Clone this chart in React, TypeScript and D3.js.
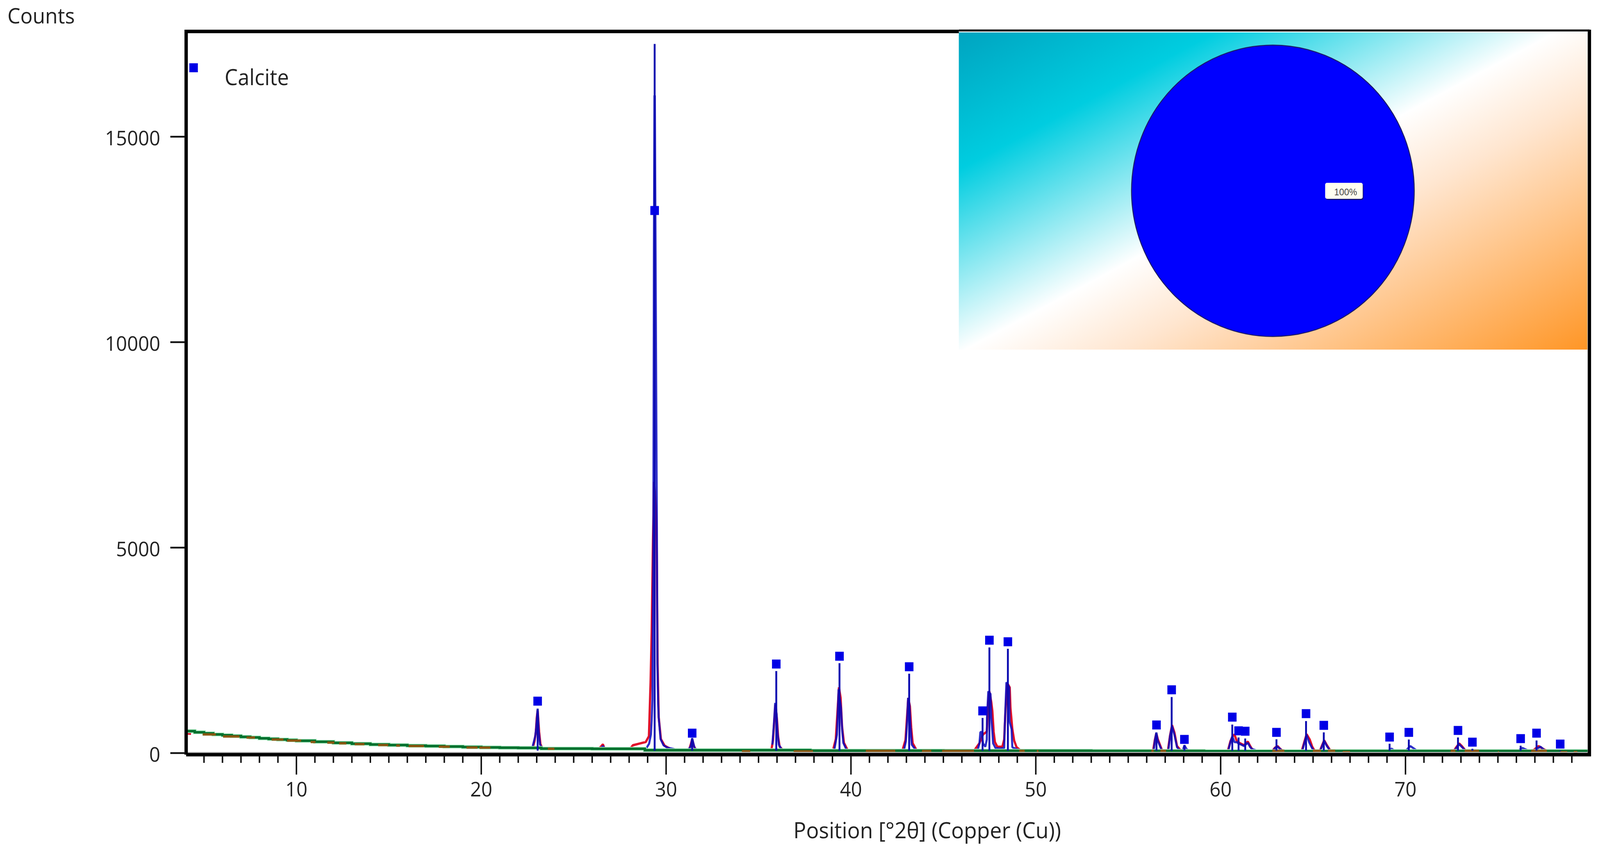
import React from "react";
import * as d3 from "d3";

type Pt = [number, number];

// ---- axes ----
const xMajorTicks = [10, 20, 30, 40, 50, 60, 70];
const xMinorTicks = d3.range(5, 80).filter((v) => v % 10 !== 0);
const yTicks = [0, 5000, 10000, 15000];
const xTitle = "Position [°2θ] (Copper (Cu))";
const yTitle = "Counts";
const phaseName = "Calcite";
const phaseShare = [100];

// ---- reflection list: position, stick height, marker height ----
const peakPositions = [23.05, 29.38, 31.41, 35.96, 39.38, 43.15, 47.12, 47.49, 48.49, 56.53, 57.35, 58.04, 60.63, 60.97, 61.33, 63.02, 64.62, 65.58, 69.14, 70.18, 72.84, 73.62, 76.23, 77.09, 78.37];
const stickCounts = [1079, 17257, 361, 1996, 2189, 1933, 856, 2571, 2538, 504, 1364, 190, 694, 380, 355, 336, 779, 504, 228, 330, 380, 105, 180, 307, 45];
const markerCounts = [1264, 13204, 485, 2167, 2357, 2101, 1027, 2747, 2709, 684, 1540, 333, 875, 542, 532, 504, 960, 675, 390, 504, 551, 266, 352, 485, 219];

// ---- background (stepped) ----
const backgroundCurve: Pt[] = [[4.04, 535], [4.5, 505], [5, 480], [5.5, 455], [6, 435], [6.5, 415], [7, 395], [7.5, 380], [8, 360], [8.5, 345], [9, 330], [9.5, 315], [10, 300], [11, 275], [12, 250], [13, 228], [14, 210], [15, 195], [16, 180], [17, 170], [18, 160], [19, 148], [20, 138], [21, 130], [22, 125], [23.25, 110], [26, 104], [28.85, 72], [37.8, 60], [45, 56], [53, 52], [59.1, 46], [66, 50], [79.85, 50]];

// ---- noise of the measured scan sitting on the background: from, to, counts ----
const noisePatches: [number, number, number][] = [[4.93, 5.64, 455], [6.03, 6.92, 405], [7.3, 7.76, 378], [8.66, 9.3, 330], [9.49, 10.26, 305], [10.77, 11.03, 270], [11.67, 12.05, 255], [12.31, 12.7, 238], [13.15, 13.68, 218], [14.42, 14.97, 195], [15.4, 15.6, 183], [16.07, 16.9, 172], [17.7, 18.3, 155], [19.2, 19.8, 135], [19.9, 20.5, 132], [23.6, 23.96, 104], [34.1, 34.55, 45], [36.9, 37.95, 42], [40.8, 42.4, 55], [43.84, 44.35, 52], [44.93, 46.66, 52], [49.1, 49.4, 55], [50.05, 50.15, 50], [56.25, 56.38, 55], [56.74, 57.05, 55], [62.8, 63.45, 55], [64.99, 65.43, 55], [65.8, 66.2, 55], [66.6, 67.0, 25], [72.44, 72.7, 55], [73.2, 73.98, 55], [75, 75.06, 25], [76.8, 77.65, 55], [78.37, 78.75, 22], [79.1, 79.3, 25]];

// ---- measured scan (null = gap) ----
const observedScan: (Pt | null)[] = [
  [4.04, 480], [4.3, 470], null,
  [22.7, 115], [22.8, 150], [22.88, 290], [22.95, 500], [23.0, 850], [23.05, 1040], [23.13, 520], [23.2, 220], [23.3, 120], null,
  [26.35, 105], [26.5, 170], [26.58, 215], [26.66, 120], null,
  [28.05, 100], [28.2, 190], [28.5, 225], [28.9, 270], [29.07, 410], [29.16, 1740], [29.22, 2950], [29.29, 5190], [29.35, 6600], [29.44, 6000], [29.48, 5580], [29.5, 4570], [29.54, 2170], [29.6, 870], [29.72, 340], [29.92, 180], [30.2, 110], null,
  [31.25, 90], [31.34, 220], [31.41, 340], [31.5, 170], [31.6, 90], null,
  [35.7, 90], [35.78, 300], [35.85, 770], [35.92, 1180], [36.0, 800], [36.06, 400], [36.14, 160], [36.3, 80], null,
  [39.05, 110], [39.18, 340], [39.27, 1000], [39.35, 1600], [39.44, 1350], [39.52, 640], [39.62, 250], [39.8, 90], null,
  [42.8, 90], [42.95, 320], [43.03, 860], [43.1, 1340], [43.19, 1140], [43.26, 620], [43.34, 240], [43.55, 70], null,
  [46.68, 70], [46.95, 240], [47.15, 456], [47.35, 522], [47.43, 1250], [47.49, 1500], [47.59, 1248], [47.65, 1027], [47.72, 520], [47.79, 266], [47.92, 155], [48.19, 155], [48.29, 333], [48.36, 1027], [48.46, 1700], [48.59, 1597], [48.63, 1093], [48.73, 586], [48.83, 304], [48.96, 143], [49.16, 70], null,
  [56.35, 70], [56.44, 320], [56.52, 480], [56.6, 340], [56.7, 220], [56.82, 80], null,
  [57.15, 70], [57.26, 420], [57.37, 680], [57.5, 500], [57.64, 170], [57.85, 60], null,
  [60.4, 70], [60.53, 290], [60.66, 420], [60.75, 450], [60.87, 300], [60.97, 260], [61.14, 220], [61.27, 190], [61.47, 280], [61.6, 170], [61.75, 60], null,
  [62.82, 65], [62.94, 130], [63.08, 170], [63.24, 95], [63.36, 55], null,
  [64.4, 70], [64.52, 260], [64.65, 460], [64.82, 330], [64.96, 150], [65.08, 60], null,
  [65.38, 65], [65.49, 190], [65.6, 310], [65.75, 190], [65.94, 60], null,
  [72.62, 60], [72.76, 150], [72.9, 235], [73.05, 170], [73.25, 60], null,
  [76.9, 60], [77.2, 170], [77.45, 100], [77.65, 55],
];

// ---- calculated profile (null = gap) ----
const calculatedScan: (Pt | null)[] = [
  [22.75, 110], [22.92, 408], [22.97, 611], [23.05, 1079], [23.11, 532], [23.18, 209], [23.26, 143], [23.48, 100], null,
  [26.45, 110], [26.58, 170], [26.7, 105], null,
  [28.9, 95], [29.08, 228], [29.18, 456], [29.22, 808], [29.26, 1300], [29.28, 2950], [29.31, 5194], [29.34, 12214], [29.37, 16000], [29.39, 16000], [29.43, 12214], [29.5, 5500], [29.53, 2167], [29.57, 1200], [29.6, 865], [29.7, 342], [29.86, 190], [30.06, 133], [30.46, 95], null,
  [31.2, 85], [31.32, 150], [31.38, 280], [31.41, 361], [31.47, 250], [31.55, 110], [31.7, 85], null,
  [35.75, 204], [35.83, 694], [35.9, 1221], [35.98, 936], [36.03, 494], [36.1, 204], [36.26, 80], null,
  [39.11, 100], [39.24, 447], [39.28, 875], [39.33, 1550], [39.4, 1300], [39.46, 1103], [39.53, 532], [39.59, 247], [39.76, 80], null,
  [42.87, 70], [42.97, 285], [43.04, 774], [43.09, 1343], [43.16, 1180], [43.21, 694], [43.29, 204], [43.51, 70], null,
  [46.85, 70], [46.95, 230], [47.0, 504], [47.06, 520], [47.15, 230], [47.27, 155], [47.35, 330], [47.36, 868], [47.43, 1502], [47.55, 1440], [47.59, 860], [47.65, 522], [47.69, 238], [47.82, 124], [48.05, 110], [48.29, 124], [48.32, 646], [48.41, 1723], [48.56, 1600], [48.58, 773], [48.69, 583], [48.73, 143], [48.96, 95], [49.2, 60], null,
  [56.38, 70], [56.44, 300], [56.52, 500], [56.6, 300], [56.7, 190], [56.8, 80], null,
  [57.17, 60], [57.26, 408], [57.37, 655], [57.5, 447], [57.64, 143], [57.82, 50], null,
  [57.95, 60], [58.04, 190], [58.15, 100], [58.3, 50], null,
  [60.43, 95], [60.53, 266], [60.63, 408], [60.75, 266], [60.87, 266], [60.97, 233], [61.14, 200], [61.27, 171], [61.33, 200], [61.47, 250], [61.6, 143], [61.71, 95], [61.9, 70], null,
  [62.84, 60], [62.94, 124], [63.08, 155], [63.24, 90], [63.34, 55], null,
  [64.42, 60], [64.52, 233], [64.65, 440], [64.79, 260], [64.96, 110], [65.06, 55], null,
  [65.39, 60], [65.49, 170], [65.6, 298], [65.75, 170], [65.92, 60], null,
  [69.0, 50], [69.25, 107], [69.42, 55], null,
  [70.0, 50], [70.26, 171], [70.64, 55], null,
  [72.64, 50], [72.9, 219], [73.22, 70], null,
  [76.1, 60], [76.33, 124], [76.7, 50], null,
  [76.95, 55], [77.3, 155], [77.55, 60],
];

// ---- styles ----
const ink = "#222";
const font = "'Open Sans', sans-serif";
const bluePhase = "#0000e6";

const plot = { left: 500.5, right: 4273.5, top: 80.5, bottom: 1932, zero: 1928 };
const x = d3.scaleLinear().domain([10, 70]).range([797, 3779]);
const y = d3.scaleLinear().domain([0, 15000]).range([plot.zero, 350]);

const scanLine = d3
  .line<Pt | null>()
  .defined((d) => d !== null)
  .x((d) => x((d as Pt)[0]))
  .y((d) => y((d as Pt)[1]));
const stepLine = d3
  .line<Pt>()
  .x((d) => x(d[0]))
  .y((d) => y(d[1]))
  .curve(d3.curveStepAfter);

const inset = { x: 2578, y: 83, w: 1690, h: 812 };
const pieArc = d3.arc<d3.PieArcDatum<number>>().innerRadius(0).outerRadius(376);
const pieSlices = d3.pie<number>().sort(null)(phaseShare);

export default function App() {
  return (
    <svg
      viewBox="0 0 4302 2171"
      preserveAspectRatio="none"
      style={{ position: "fixed", left: 0, top: 0, width: "100vw", height: "100vh", background: "#fff", display: "block" }}
    >
      <defs>
        <linearGradient id="insetBg" gradientUnits="userSpaceOnUse" x1={2578} y1={83} x2={3257} y2={1411}>
          <stop offset="0" stopColor="#00a4c0" />
          <stop offset="0.21" stopColor="#00cde0" />
          <stop offset="0.49" stopColor="#ffffff" />
          <stop offset="0.62" stopColor="#ffe6d0" />
          <stop offset="1" stopColor="#ff9626" />
        </linearGradient>
      </defs>

      {/* data */}
      <path d={scanLine(observedScan) ?? ""} fill="none" stroke="#e0102a" strokeWidth={6} strokeLinejoin="bevel" />
      <path d={scanLine(calculatedScan) ?? ""} fill="none" stroke="#0808c0" strokeWidth={5.5} strokeLinejoin="bevel" opacity={0.85} />
      <path d={stepLine(backgroundCurve) ?? ""} fill="none" stroke="#b4efc6" strokeWidth={10} />
      <path d={stepLine(backgroundCurve) ?? ""} fill="none" stroke="#00702e" strokeWidth={6.5} />
      {noisePatches.map(([a, b, c], i) => (
        <line key={i} x1={x(a)} x2={x(b)} y1={y(c)} y2={y(c)} stroke="#8a5712" strokeWidth={6} />
      ))}
      {peakPositions.map((p, i) => (
        <line key={i} x1={x(p)} x2={x(p)} y1={y(stickCounts[i])} y2={y(60)} stroke="#0a0ab0" strokeWidth={5} />
      ))}
      {peakPositions.map((p, i) => (
        <rect key={i} x={x(p) - 11.5} y={y(markerCounts[i]) - 11.5} width={23} height={23} fill={bluePhase} />
      ))}

      {/* inset */}
      <rect x={inset.x} y={inset.y} width={inset.w} height={inset.h} fill="url(#insetBg)" />
      <g transform="translate(3422.5,488.5) scale(1.0106,0.992)">
        {pieSlices.map((s, i) => (
          <path key={i} d={pieArc(s) ?? ""} fill="#0000ff" stroke="#1c1c66" strokeWidth={2.5} />
        ))}
      </g>
      <rect x={3565} y={471} width={101} height={41} rx={5} fill="#14147a" />
      <rect x={3563} y={468} width={101} height={41} rx={5} fill="#fffff0" />
      <text x={3618} y={500} textAnchor="middle" fontFamily="'Liberation Sans', sans-serif" fontSize={24} fill="#444">
        {phaseShare[0]}%
      </text>

      {/* frame */}
      <rect x={500} y={1925} width={3770} height={2.5} fill="#bbb" />
      <path d={`M${plot.left},${plot.bottom} V${plot.top} H${inset.x}`} fill="none" stroke="#000" strokeWidth={9} />
      <path d={`M${inset.x},78 H4274`} fill="none" stroke="#000" strokeWidth={5} />
      <path d={`M${plot.right},76 V${plot.bottom} H${plot.left}`} fill="none" stroke="#000" strokeWidth={9} />

      {/* ticks */}
      {yTicks.map((t) => (
        <g key={t}>
          <line x1={458} x2={498} y1={y(t)} y2={y(t)} stroke="#111" strokeWidth={4.5} />
          <text x={431} y={y(t) + 22} textAnchor="end" fontFamily={font} fontSize={52} fill={ink}>
            {t}
          </text>
        </g>
      ))}
      {xMinorTicks.map((t) => (
        <line key={t} x1={x(t)} x2={x(t)} y1={1934} y2={1953} stroke="#111" strokeWidth={4} />
      ))}
      {xMajorTicks.map((t) => (
        <g key={t}>
          <line x1={x(t)} x2={x(t)} y1={1934} y2={1983} stroke="#111" strokeWidth={4} />
          <text x={x(t)} y={2039} textAnchor="middle" fontFamily={font} fontSize={52} fill={ink}>
            {t}
          </text>
        </g>
      ))}

      {/* labels */}
      <text x={20} y={60} fontFamily={font} fontSize={55} fill={ink}>
        {yTitle}
      </text>
      <text x={2493} y={2146} textAnchor="middle" fontFamily={font} fontSize={57} fill={ink}>
        {xTitle}
      </text>
      <rect x={509} y={162} width={23} height={23} fill={bluePhase} />
      <text x={604} y={218} fontFamily={font} fontSize={56} fill={ink}>
        {phaseName}
      </text>
    </svg>
  );
}
